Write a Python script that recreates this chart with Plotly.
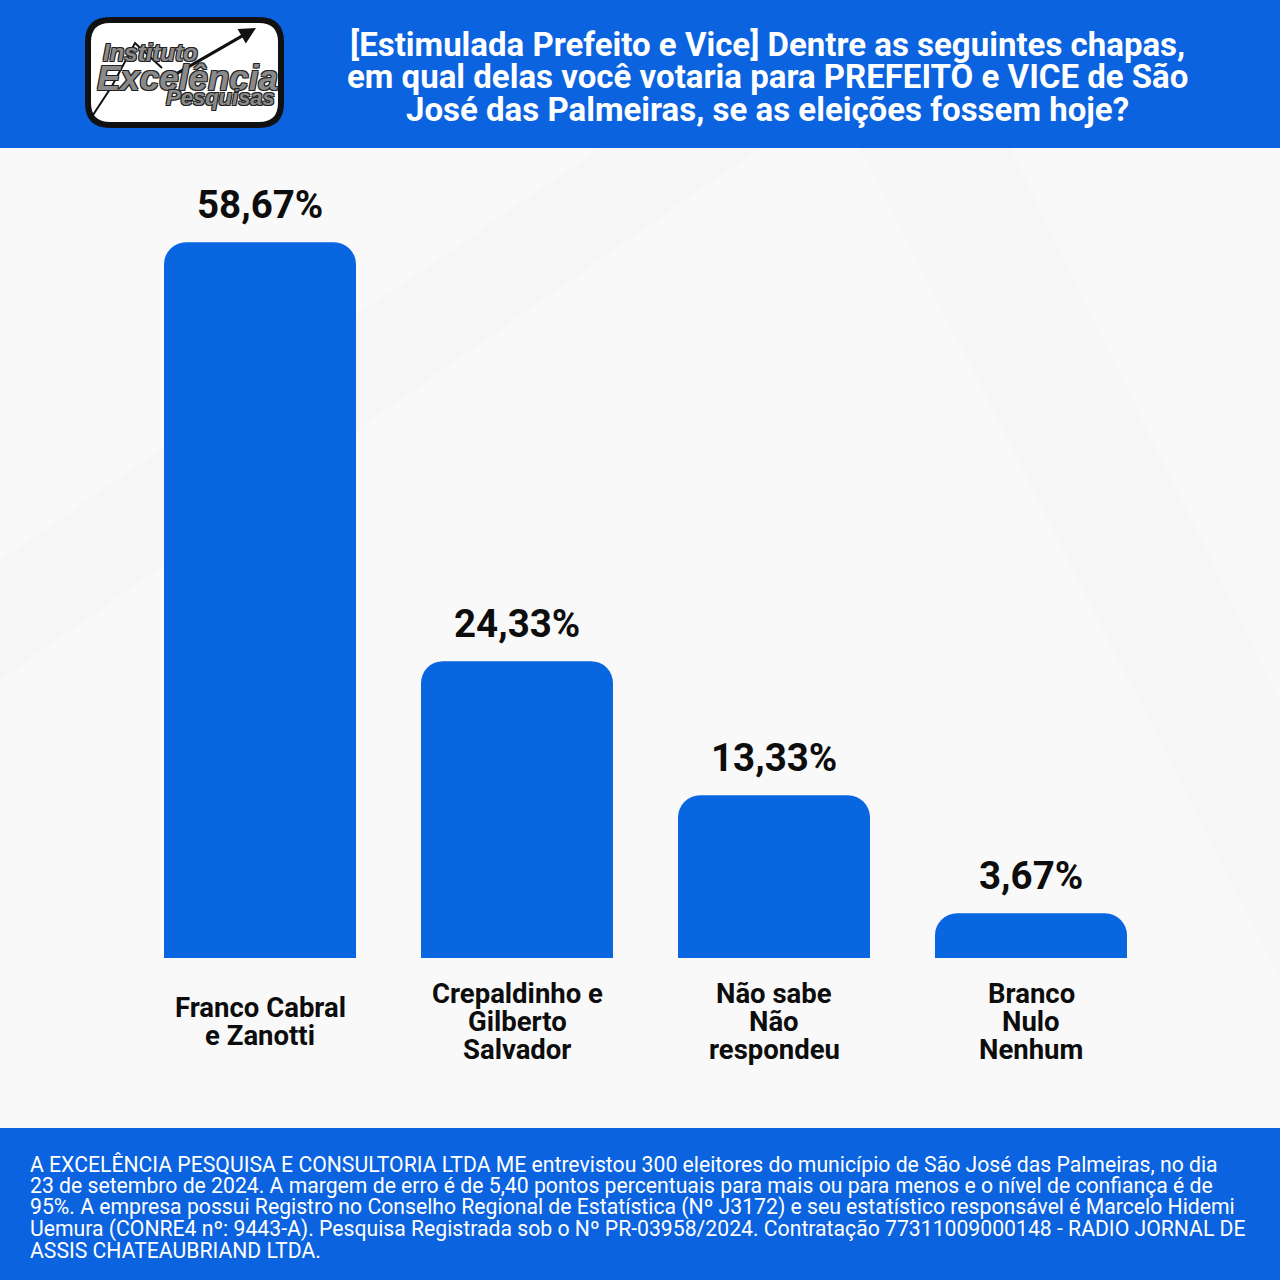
import plotly.graph_objects as go

W, H = 1280, 1280

categories = [
    "Franco Cabral<br>e Zanotti",
    "Crepaldinho e<br>Gilberto<br>Salvador",
    "Não sabe<br>Não<br>respondeu",
    "Branco<br>Nulo<br>Nenhum",
]
values = [58.67, 24.33, 13.33, 3.67]
value_labels = ["58,67%", "24,33%", "13,33%", "3,67%"]

title_lines = [
    "[Estimulada Prefeito e Vice] Dentre as seguintes chapas,",
    "em qual delas você votaria para PREFEITO e VICE de São",
    "José das Palmeiras, se as eleições fossem hoje?",
]
footer_lines = [
    "A EXCELÊNCIA PESQUISA E CONSULTORIA LTDA ME entrevistou 300 eleitores do município de São José das Palmeiras, no dia",
    "23 de setembro de 2024. A margem de erro é de 5,40 pontos percentuais para mais ou para menos e o nível de confiança é de",
    "95%. A empresa possui Registro no Conselho Regional de Estatística (Nº J3172) e seu estatístico responsável é Marcelo Hidemi",
    "Uemura (CONRE4 nº: 9443-A). Pesquisa Registrada sob o Nº PR-03958/2024. Contratação 77311009000148 - RADIO JORNAL DE",
    "ASSIS CHATEAUBRIAND LTDA.",
]

BLUE = "#0866E1"
HEADER = "#0B63DF"
INK = "#0d0d0d"
FONT = "Roboto"


def px(x):
    return x / W


def py(y):
    return 1 - y / H


def rounded_box(x0, y0, x1, y1, r):
    # rounded rectangle in pixel coords -> paper path
    return (
        f"M {px(x0 + r)} {py(y0)} L {px(x1 - r)} {py(y0)} "
        f"Q {px(x1)} {py(y0)} {px(x1)} {py(y0 + r)} L {px(x1)} {py(y1 - r)} "
        f"Q {px(x1)} {py(y1)} {px(x1 - r)} {py(y1)} L {px(x0 + r)} {py(y1)} "
        f"Q {px(x0)} {py(y1)} {px(x0)} {py(y1 - r)} L {px(x0)} {py(y0 + r)} "
        f"Q {px(x0)} {py(y0)} {px(x0 + r)} {py(y0)} Z"
    )


fig = go.Figure()
fig.add_trace(
    go.Bar(
        x=categories,
        y=values,
        marker=dict(color=BLUE, line=dict(width=0)),
        width=0.747,
        hoverinfo="skip",
    )
)

shapes = [
    # header and footer bands
    dict(type="rect", xref="paper", yref="paper", x0=0, x1=1, y0=py(148), y1=1,
         fillcolor=HEADER, line=dict(width=0), layer="below"),
    dict(type="rect", xref="paper", yref="paper", x0=0, x1=1, y0=0, y1=py(1128),
         fillcolor=HEADER, line=dict(width=0), layer="below"),
    # faint background streaks
    dict(type="path", xref="paper", yref="paper",
         path=f"M {px(0)} {py(560)} L {px(600)} {py(148)} L {px(760)} {py(148)} L {px(0)} {py(680)} Z",
         fillcolor="rgba(0,0,0,0.012)", line=dict(width=0), layer="below"),
    dict(type="path", xref="paper", yref="paper",
         path=f"M {px(860)} {py(148)} L {px(1010)} {py(148)} L {px(1280)} {py(700)} L {px(1280)} {py(980)} Z",
         fillcolor="rgba(0,0,0,0.012)", line=dict(width=0), layer="below"),
    # logo box
    dict(type="path", xref="paper", yref="paper", path=rounded_box(88, 20, 281, 125, 22),
         fillcolor="white", line=dict(color="#111", width=6)),
    # logo trend line
    dict(type="path", xref="paper", yref="paper",
         path=f"M {px(91)} {py(118)} L {px(112)} {py(86)} L {px(135)} {py(43)} L {px(162)} {py(68)}",
         line=dict(color="#111", width=2)),
]

annotations = []
# logo arrow
annotations.append(dict(
    xref="paper", yref="paper", x=px(256), y=py(28), ax=-80, ay=46,
    showarrow=True, arrowhead=2, arrowsize=1.1,
    arrowwidth=3, arrowcolor="#111", text="",
))
for txt, x, y, size in [
    ("Instituto", 150, 53, 24),
    ("Excelência", 187, 77, 35),
    ("Pesquisas", 220, 98, 22),
]:
    annotations.append(dict(
        xref="paper", yref="paper", x=px(x), y=py(y), text=f"<b><i>{txt}</i></b>",
        showarrow=False, font=dict(family="Liberation Sans", size=size, color="#8a8a8a",
                                   shadow="1px 1px 0px #222, -1px -1px 0px #222, 1px -1px 0px #222, -1px 1px 0px #222"),
        xanchor="center", yanchor="middle",
    ))

for i, line in enumerate(title_lines):
    annotations.append(dict(
        xref="paper", yref="paper", x=px(767), y=py(44 + i * 32.5), text=f"<b>{line}</b>",
        showarrow=False, font=dict(family=FONT, size=33, color="white"),
        xanchor="center", yanchor="middle",
    ))

# value labels above bars
for cat, val, lab in zip(categories, values, value_labels):
    annotations.append(dict(
        xref="x", yref="y", x=cat, y=val, text=f"<b>{lab}</b>",
        showarrow=False, yshift=13, yanchor="bottom",
        font=dict(family=FONT, size=38.5, color=INK),
    ))

# category labels, one annotation per line for tighter leading
for cat in categories:
    parts = cat.split("<br>")
    top = 1021 - (len(parts) - 1) * 28 / 2
    for j, part in enumerate(parts):
        annotations.append(dict(
            xref="x", yref="paper", x=cat, y=py(top + j * 28), text=f"<b>{part}</b>",
            showarrow=False, yanchor="middle",
            font=dict(family=FONT, size=27.5, color=INK),
        ))

for i, line in enumerate(footer_lines):
    annotations.append(dict(
        xref="paper", yref="paper", x=px(28), y=py(1164 + i * 21.6), text=line,
        showarrow=False, font=dict(family=FONT, size=21.2, color="white"),
        xanchor="left", yanchor="middle",
    ))

fig.update_layout(
    width=W,
    height=H,
    margin=dict(l=0, r=0, t=0, b=0),
    paper_bgcolor="#f9f9f9",
    plot_bgcolor="rgba(0,0,0,0)",
    showlegend=False,
    barcornerradius=22,
    shapes=shapes,
    annotations=annotations,
    xaxis=dict(
        domain=[px(131.5), px(1159.5)],
        range=[-0.5, 3.5],
        showgrid=False,
        zeroline=False,
        showline=False,
        showticklabels=False,
        fixedrange=True,
    ),
    yaxis=dict(
        domain=[py(958), py(160)],
        range=[0, 798 / 12.2],
        visible=False,
        fixedrange=True,
    ),
)

fig.write_html(
    "out.html",
    config={"displayModeBar": False},
    post_script="document.body.style.margin='0px';document.body.style.overflow='hidden';",
)
